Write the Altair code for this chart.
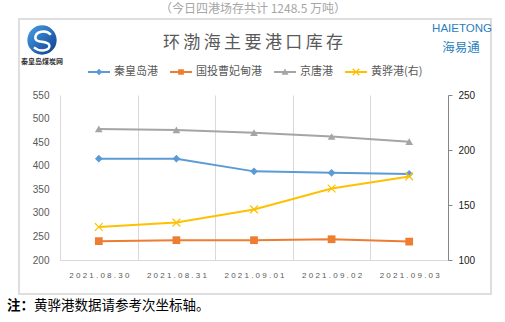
import altair as alt
import pandas as pd

dates = ["2021.08.30", "2021.08.31", "2021.09.01", "2021.09.02", "2021.09.03"]
series = ["秦皇岛港", "国投曹妃甸港", "京唐港", "黄骅港(右)"]
qhd = [415, 415, 388, 385, 382.5]
cfd = [240, 242, 242, 244, 239]
jt = [478, 476, 470, 462, 451]
hh = [130, 134, 146, 165, 176]
colors = ["#5b9bd5", "#ed7d31", "#a5a5a5", "#ffc000"]

title_text = "环\u2009渤\u2009海\u2009主\u2009要\u2009港\u2009口\u2009库\u2009存"
subtitle_text = "（今日四港场存共计 1248.5 万吨）"
note_bold = "注："
note_text = "黄骅港数据请参考次坐标轴。"

FONT = "Liberation Sans, Noto Sans CJK SC"
CJK = "Noto Sans CJK SC"

left_df = pd.DataFrame({
    "date": dates * 3,
    "series": [series[0]] * 5 + [series[1]] * 5 + [series[2]] * 5,
    "value": qhd + cfd + jt,
})
right_df = pd.DataFrame({"date": dates, "series": series[3], "value": hh})
one = pd.DataFrame({"a": [0]})

xenc = alt.X(
    "date:N", sort=dates,
    scale=alt.Scale(type="band", paddingInner=0, paddingOuter=0),
    axis=alt.Axis(title=None, ticks=False, tickBand="extent", grid=True,
                  gridColor="#d9d9d9", domainColor="#d9d9d9", labelFont=FONT,
                  labelFontSize=8, labelColor="#595959", labelPadding=11,
                  labelAngle=0, labelExpr="join(split(datum.label, ''), ' ')"),
)
color_scale = alt.Scale(domain=series, range=colors)

yl = alt.Y("value:Q", scale=alt.Scale(domain=[200, 550], nice=False, zero=False),
           axis=alt.Axis(title=None, values=list(range(200, 551, 50)), grid=False,
                         domain=False, ticks=False, labelFont=FONT, labelFontSize=10,
                         labelColor="#595959", labelPadding=11))
yr = alt.Y("value:Q", scale=alt.Scale(domain=[100, 250], nice=False, zero=False),
           axis=alt.Axis(title=None, orient="right", values=[100, 150, 200, 250],
                         grid=False, domainColor="#868686", tickColor="#868686",
                         tickSize=4, labelFont=FONT, labelFontSize=10,
                         labelColor="#1a1a1a", labelPadding=6))

base_l = alt.Chart(left_df).encode(
    x=xenc, y=yl, color=alt.Color("series:N", scale=color_scale, legend=None))
left_group = alt.layer(
    base_l.mark_line(strokeWidth=2),
    base_l.mark_point(filled=True, size=60, opacity=1).encode(
        shape=alt.Shape("series:N", scale=alt.Scale(domain=series[:3],
                        range=["diamond", "square", "triangle-up"]), legend=None)),
)
base_r = alt.Chart(right_df).encode(
    x=xenc, y=yr, color=alt.Color("series:N", scale=color_scale, legend=None))
right_group = alt.layer(
    base_r.mark_line(strokeWidth=2),
    base_r.mark_point(shape="M-1,-1L1,1M-1,1L1,-1", size=60, filled=False,
                      strokeWidth=1.2, opacity=1),
)

line_p = "M-1,-0.08H1V0.08H-1Z"
leg_paths = [
    line_p + "M0,-0.3L0.3,0L0,0.3L-0.3,0Z",
    line_p + "M-0.26,-0.26H0.26V0.26H-0.26Z",
    line_p + "M0,-0.32L0.32,0.26H-0.32Z",
    line_p + "M-0.258,-0.342L0.342,0.258L0.258,0.342L-0.342,-0.258Z"
             "M0.258,-0.342L0.342,-0.258L-0.258,0.342L-0.342,0.258Z",
]
leg_props = dict(orient="none", legendX=28, legendY=-34, direction="horizontal",
                 title=None, symbolSize=484, symbolStrokeWidth=0, labelFont=CJK,
                 labelFontSize=11, labelColor="#595959", labelOffset=4,
                 columnPadding=12)
legend_layer = alt.Chart(pd.DataFrame({"series": series})).mark_point(
    filled=True, opacity=1).encode(
    color=alt.Color("series:N", scale=alt.Scale(domain=series, range=colors),
                    legend=alt.Legend(**leg_props)),
    shape=alt.Shape("series:N", scale=alt.Scale(domain=series, range=leg_paths),
                    legend=alt.Legend(**leg_props)),
).transform_filter("false")

card = alt.Chart(one).mark_rect(fillOpacity=0, stroke="#dedede", strokeWidth=2).encode(
    x=alt.value(-41), x2=alt.value(431), y=alt.value(-76), y2=alt.value(199))

def txt(t, x, y, size, color, font=CJK, weight="normal", align="center"):
    return alt.Chart(one).mark_text(text=t, font=font, fontSize=size, color=color,
                                    fontWeight=weight, align=align, baseline="middle").encode(
        x=alt.value(x), y=alt.value(y))

subtitle = txt(subtitle_text, 193, -86, 12, "#a6a6a6")
title = txt(title_text, 193, -52, 17, "#595959")
note1 = txt(note_bold, -53, 211, 13.5, "#000000", weight="bold", align="left")
note2 = txt(note_text, -26, 211, 13.5, "#000000", align="left")
logo_l_txt = txt("秦皇岛煤炭网", -18, -33, 7, "#333333", weight="bold")
logo_r1 = txt("HAIETONG", 402, -66, 11.5, "#2a7fc0", font="Liberation Sans")
logo_r2 = txt("海易通", 401, -47, 12.5, "#2a7fc0")

logo_circle = alt.Chart(one).mark_point(
    shape="circle", filled=True, size=860, opacity=1,
    fill=alt.Gradient(gradient="linear", x1=0, y1=0, x2=1, y2=1,
                      stops=[alt.GradientStop(color="#4aa0e8", offset=0),
                             alt.GradientStop(color="#0b3c8c", offset=1)])).encode(
    x=alt.value(-18), y=alt.value(-55))
logo_swirl = alt.Chart(one).mark_point(
    shape="M0.6,-0.35C0.3,-0.75 -0.5,-0.6 -0.45,-0.1C-0.4,0.25 0.35,0.0 0.5,0.35C0.6,0.75 -0.15,0.85 -0.55,0.5",
    filled=False, stroke="white", strokeWidth=2.5, size=860, opacity=1).encode(
    x=alt.value(-18), y=alt.value(-55))

chart = alt.layer(
    card, subtitle, title, note1, note2, logo_circle, logo_swirl, logo_l_txt,
    logo_r1, logo_r2, left_group, right_group, legend_layer,
).resolve_scale(y="independent", color="independent", shape="independent").properties(
    width=388, height=165,
    padding={"left": 60, "top": 95, "right": 57, "bottom": 62},
    autosize=alt.AutoSizeParams(type="none"),
    background="white",
).configure_view(stroke=None)

chart.save("out.html", embed_options={"renderer": "svg", "actions": False})
